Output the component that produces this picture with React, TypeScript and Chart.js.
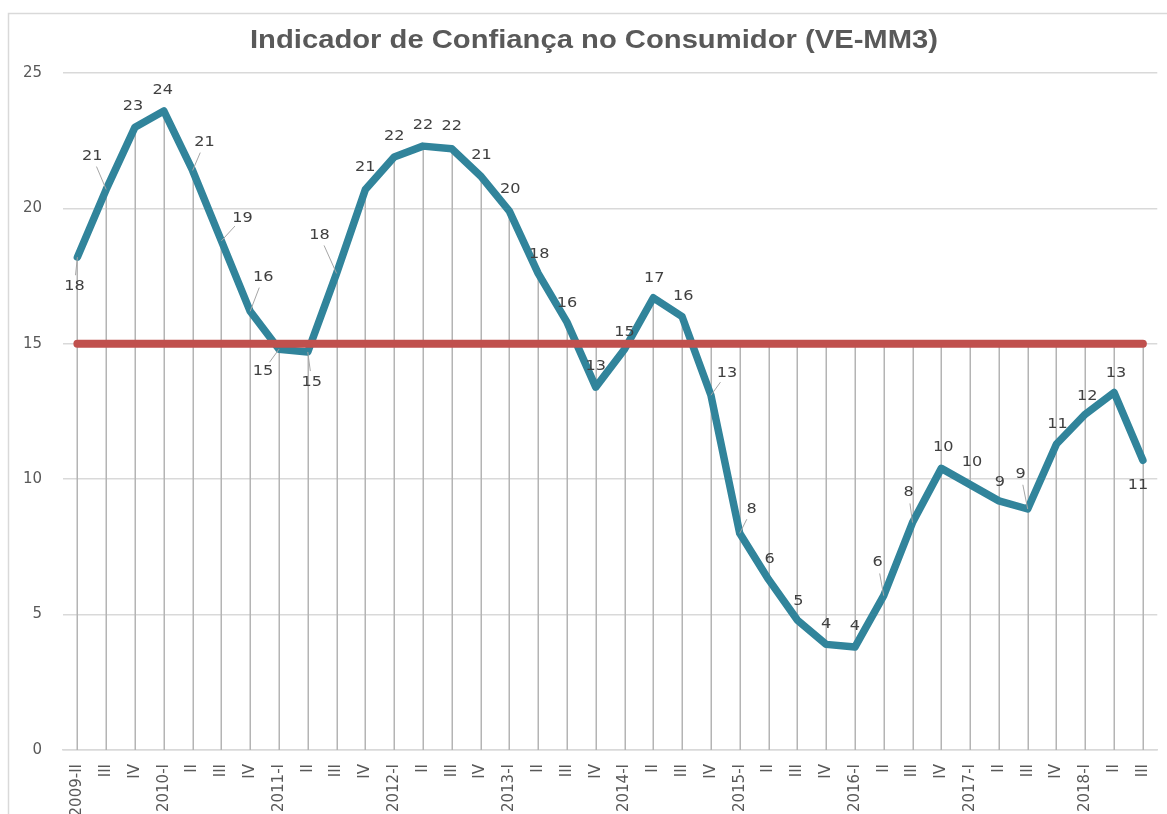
import React, { useEffect, useRef } from "react";
import { Chart, registerables } from "chart.js";

Chart.register(...registerables);

const CATEGORIES = [
  "2009-II", "III", "IV",
  "2010-I", "II", "III", "IV",
  "2011-I", "II", "III", "IV",
  "2012-I", "II", "III", "IV",
  "2013-I", "II", "III", "IV",
  "2014-I", "II", "III", "IV",
  "2015-I", "II", "III", "IV",
  "2016-I", "II", "III", "IV",
  "2017-I", "II", "III", "IV",
  "2018-I", "II", "III",
];

const ICC_VALUES = [
  18.2, 20.7, 23.0,
  23.6, 21.4, 18.8, 16.2,
  14.8, 14.7, 17.6, 20.7,
  21.9, 22.3, 22.2, 21.2,
  19.9, 17.6, 15.8, 13.4,
  14.8, 16.7, 16.0, 13.1,
  8.0, 6.3, 4.8, 3.9,
  3.8, 5.7, 8.4, 10.4,
  9.8, 9.2, 8.9, 11.3,
  12.4, 13.2, 10.7,
];

const REFERENCE_VALUES = [
  15, 15, 15,
  15, 15, 15, 15,
  15, 15, 15, 15,
  15, 15, 15, 15,
  15, 15, 15, 15,
  15, 15, 15, 15,
  15, 15, 15, 15,
  15, 15, 15, 15,
  15, 15, 15, 15,
  15, 15, 15,
];

const Y_TICKS = [0, 5, 10, 15, 20, 25];

const TITLE = "Indicador de Confiança no Consumidor (VE-MM3)";

// Label placement offsets (px) relative to each point: [dx, dy]
const LABEL_OFFSETS: [number, number][] = [
  [-3, 29], [-14, -33], [-2, -21],
  [-1, -21], [12, -28], [21, -23], [13, -34],
  [-16, 22], [4, 30], [-17, -38], [0, -22],
  [0, -21], [0, -21], [0, -22], [1, -21],
  [1, -22], [1, -19], [0, -19], [0, -21],
  [0, -17], [1, -19], [1, -20], [16, -22],
  [12, -24], [1, -20], [1, -19], [0, -20],
  [0, -21], [-6, -33], [-4, -30], [2, -21],
  [2, -22], [1, -19], [-7, -35], [1, -20],
  [2, -18], [2, -19], [-5, 25],
];

const frameAndDropLines = {
  id: "frameAndDropLines",
  beforeDraw(chart: any) {
    const ctx = chart.ctx;
    ctx.save();
    ctx.fillStyle = "#ffffff";
    ctx.fillRect(0, 0, chart.width, chart.height);
    ctx.strokeStyle = "#d9d9d9";
    ctx.lineWidth = 1.5;
    ctx.strokeRect(8.5, 13.5, chart.width + 20, chart.height + 20);
    ctx.restore();
  },
  beforeDatasetsDraw(chart: any) {
    const ctx = chart.ctx;
    const m0 = chart.getDatasetMeta(0).data;
    const m1 = chart.getDatasetMeta(1).data;
    const bottom = chart.chartArea.bottom;
    ctx.save();
    ctx.strokeStyle = "#b4b4b4";
    ctx.lineWidth = 1.5;
    for (let i = 0; i < m0.length; i++) {
      const top = Math.min(m0[i].y, m1[i].y);
      const x = Math.round(m0[i].x) + 0.25;
      ctx.beginPath();
      ctx.moveTo(x, top);
      ctx.lineTo(x, bottom);
      ctx.stroke();
    }
    ctx.restore();
  },
  afterDraw(chart: any) {
    const ctx = chart.ctx;
    ctx.save();
    ctx.font = "bold 25px 'Liberation Sans', Arial";
    ctx.fillStyle = "#595959";
    ctx.textAlign = "center";
    ctx.textBaseline = "middle";
    const w = ctx.measureText(TITLE).width;
    const sx = 688 / w;
    ctx.translate(594, 41);
    ctx.scale(sx, 1);
    ctx.fillText(TITLE, 0, 0);
    ctx.restore();
  },
};

const dataLabels = {
  id: "dataLabels",
  afterDatasetsDraw(chart: any) {
    const ctx = chart.ctx;
    const meta = chart.getDatasetMeta(0).data;
    ctx.save();
    ctx.font = "14px 'DejaVu Sans'";
    ctx.textAlign = "center";
    ctx.textBaseline = "middle";
    for (let i = 0; i < meta.length; i++) {
      const p = meta[i];
      const [dx, dy] = LABEL_OFFSETS[i];
      const d = Math.hypot(dx, dy);
      if (d > 26) {
        const f = (d - 11) / d;
        ctx.strokeStyle = "#a6a6a6";
        ctx.lineWidth = 1;
        ctx.beginPath();
        ctx.moveTo(p.x, p.y);
        ctx.lineTo(p.x + dx * f, p.y + dy * f);
        ctx.stroke();
      }
      ctx.save();
      ctx.translate(p.x + dx, p.y + dy);
      ctx.scale(1.15, 1);
      ctx.fillStyle = "#404040";
      ctx.fillText(String(Math.round(ICC_VALUES[i])), 0, 0);
      ctx.restore();
    }
    ctx.restore();
  },
};

export default function App() {
  const ref = useRef<HTMLCanvasElement | null>(null);
  useEffect(() => {
    if (!ref.current) return;
    const chart = new Chart(ref.current, {
      type: "line",
      data: {
        labels: CATEGORIES,
        datasets: [
          {
            label: "ICC",
            data: ICC_VALUES,
            borderColor: "#31849b",
            borderWidth: 7.5,
            pointRadius: 0,
            borderJoinStyle: "round",
            borderCapStyle: "round",
            tension: 0,
            order: 2,
          },
          {
            label: "Referência",
            data: REFERENCE_VALUES,
            borderColor: "#c0504d",
            borderWidth: 8,
            pointRadius: 0,
            borderCapStyle: "round",
            tension: 0,
            order: 1,
          },
        ],
      },
      options: {
        responsive: false,
        animation: false,
        layout: { padding: { left: 0, right: 9, top: 73, bottom: 0 } },
        plugins: {
          legend: { display: false },
          tooltip: { enabled: false },
          title: { display: false },
        },
        scales: {
          x: {
            type: "category",
            offset: true,
            grid: { display: false },
            border: { display: true, color: "#d9d9d9", width: 1.5 },
            ticks: {
              autoSkip: false,
              minRotation: 90,
              maxRotation: 90,
              padding: 6,
              color: "#595959",
              font: { family: "'DejaVu Sans'", size: 15 },
            },
            afterFit: (s: any) => {
              s.height = 64;
            },
          },
          y: {
            min: 0,
            max: 25,
            afterBuildTicks: (s: any) => {
              s.ticks = Y_TICKS.map((v) => ({ value: v }));
            },
            grid: { color: "#d9d9d9", lineWidth: 1.5, drawTicks: false },
            border: { display: false },
            ticks: {
              padding: 21,
              color: "#595959",
              font: { family: "'DejaVu Sans'", size: 15 },
            },
            afterFit: (s: any) => {
              s.width = 63;
            },
          },
        },
      },
      plugins: [frameAndDropLines, dataLabels],
    });
    return () => chart.destroy();
  }, []);
  return (
    <div style={{ position: "absolute", left: 0, top: 0, width: 1167, height: 814 }}>
      <canvas ref={ref} width={1167} height={814} />
    </div>
  );
}
